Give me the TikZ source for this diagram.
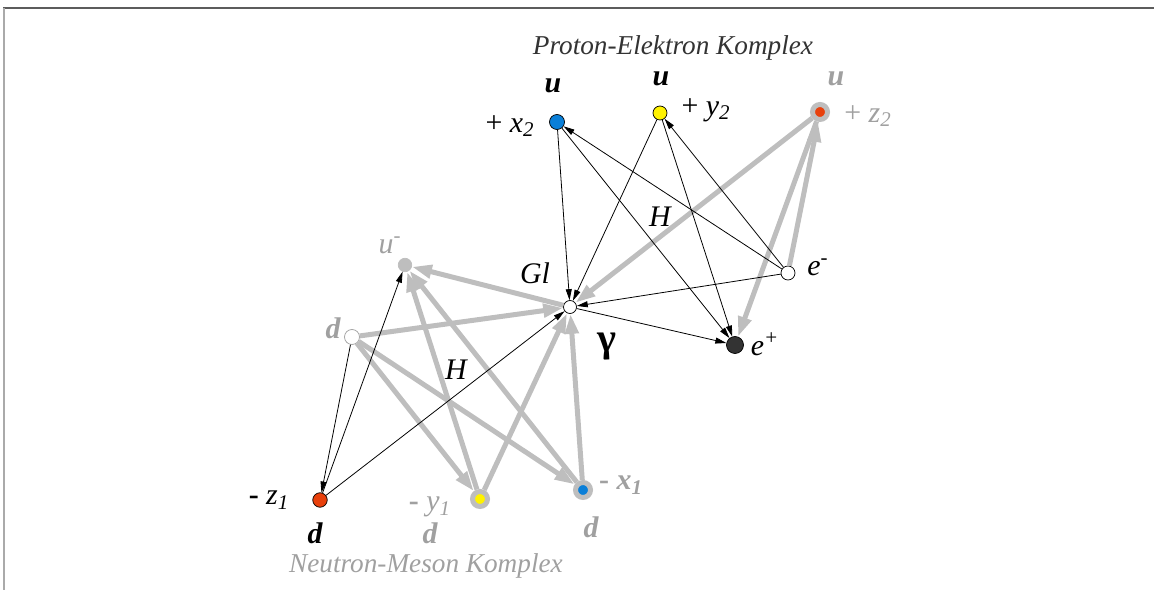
\documentclass[tikz,border=0pt]{standalone}
\usepackage{fontspec}
\setmainfont{Liberation Serif}
\usetikzlibrary{arrows.meta}
\definecolor{qBlue}{HTML}{0A7FD8}
\definecolor{qYellow}{HTML}{FFF200}
\definecolor{qRed}{HTML}{E8400C}
\definecolor{qLine}{HTML}{BEBEBE}
\definecolor{qGray}{HTML}{A0A0A0}
\definecolor{qDark}{HTML}{333333}

\begin{document}
\begin{tikzpicture}[x=0.2mm, y=-0.2mm,
    pt/.style={circle, draw=black, line width=0.4pt, inner sep=0pt, minimum size=3mm},
    ring/.style={circle, draw=qLine, line width=1mm, inner sep=0pt, minimum size=3mm},
    lbl/.style={font=\fontsize{17}{20}\selectfont\itshape, inner sep=0pt},
    glbl/.style={lbl, text=qGray},
    bi/.style={font=\fontsize{17}{20}\selectfont\bfseries\itshape},
    blk/.style={-{Triangle[length=2.2mm, width=1.2mm]}, line width=0.45pt},
    gry/.style={-{Triangle[length=4mm, width=2.6mm]}, draw=qLine, fill=qLine, line width=1mm}]
  \useasboundingbox (0,0) rectangle (1154,590);
  % frame
  \draw[qDark!80, line width=0.4mm] (3,8) -- (1154,8);
  \draw[qGray!90, line width=0.35mm] (4,8) -- (4,590);

  % proton-elektron side
  \node[pt, fill=qBlue] (x2) at (557,122) {};
  \node[pt, fill=qYellow, minimum size=2.8mm] (y2) at (660,113) {};
  \node[ring, fill=qRed] (z2) at (820,112) {};
  \node[pt, fill=white, minimum size=2.8mm] (em) at (788,273) {};
  \node[pt, fill=white, minimum size=2.6mm] (gl) at (570,307) {};
  \node[pt, fill=qDark, minimum size=3.4mm] (ep) at (735,345) {};

  % neutron-meson side
  \node[pt, draw=qLine, fill=qLine, minimum size=2.7mm] (ub) at (405,265) {};
  \node[pt, draw=qGray, fill=white] (dn) at (352,337) {};
  \node[pt, fill=qRed, minimum size=2.9mm] (z1) at (320,500) {};
  \node[ring, fill=qYellow] (y1) at (480,499) {};
  \node[ring, fill=qBlue] (x1) at (583,490) {};

  % gray connectors
  \foreach \a/\b in {z2/gl, z2/ep, em/z2, gl/ub, dn/gl, dn/y1, dn/x1, y1/ub, x1/ub, y1/gl, x1/gl}
    \draw[gry] (\a) -- (\b);
  % black connectors
  \foreach \a/\b in {x2/gl, x2/ep, y2/gl, y2/ep, em/x2, em/y2, em/gl, gl/ep, z1/gl, z1/ub, dn/z1}
    \draw[blk] (\a) -- (\b);

  % labels
  \node[lbl, text=qDark, font=\fontsize{15.5}{18}\selectfont\itshape] (tp) at (673,48) {Proton-Elektron Komplex};
  \node[glbl, font=\fontsize{15.5}{18}\selectfont\itshape] (tn) at (426,566) {Neutron-Meson Komplex};
  \node[lbl, bi] (ux2) at (553,86) {u};
  \node[lbl, bi] (uy2) at (661,79) {u};
  \node[glbl, bi] (uz2) at (836,79) {u};
  \node[lbl] (lx2) at (510,126) {\upshape+ \itshape x\textsubscript{2}};
  \node[lbl] (ly2) at (706,110) {\upshape+ \itshape y\textsubscript{2}};
  \node[glbl] (lz2) at (868,116) {\upshape+ \itshape z\textsubscript{2}};
  \node[lbl] (h1) at (660,217) {H};
  \node[lbl] (h2) at (456,370) {H};
  \node[lbl] (lgl) at (535,273) {Gl};
  \node[lbl, font=\fontsize{23}{26}\selectfont\bfseries] (lga) at (607,347) {γ};
  \node[lbl] (lem) at (818,267) {e\textsuperscript{-}};
  \node[lbl] (lep) at (765,344) {e\textsuperscript{+}};
  \node[glbl] (lub) at (390,245) {u\textsuperscript{-}};
  \node[glbl, bi] (ldn) at (333,328) {d};
  \node[lbl] (lz1) at (269,500) {\upshape\bfseries- \mdseries\itshape z\textsubscript{1}};
  \node[lbl, bi] (dz1) at (315,533) {d};
  \node[glbl] (ly1) at (430,507) {\upshape\bfseries- \mdseries\itshape y\textsubscript{1}};
  \node[glbl, bi] (dy1) at (430,533) {d};
  \node[glbl, bi] (lx1) at (621,485) {\upshape- \itshape x\textsubscript{1}};
  \node[glbl, bi] (dx1) at (591,527) {d};
\end{tikzpicture}
\end{document}
